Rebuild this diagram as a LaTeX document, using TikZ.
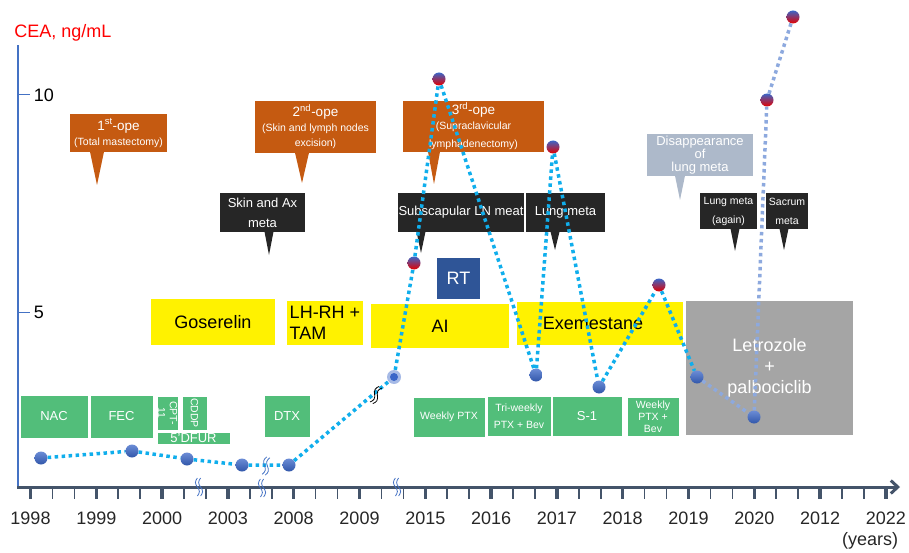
\documentclass[tikz,border=0pt]{standalone}
\usepackage{fontspec}
\setmainfont{Liberation Sans}
\usepackage{tikz}
\usetikzlibrary{calc,arrows.meta}

\definecolor{opeorange}{HTML}{C55A11}
\definecolor{metablack}{HTML}{262626}
\definecolor{lungmeta}{HTML}{ADB9CA}
\definecolor{chemogreen}{HTML}{52BE7A}
\definecolor{rtblue}{HTML}{2F5597}
\definecolor{cdkgray}{HTML}{A5A5A5}
\definecolor{yaxisblue}{HTML}{4472C4}
\definecolor{xaxisslate}{HTML}{44546A}
\definecolor{ceacyan}{HTML}{10AEEC}
\definecolor{cealight}{HTML}{8DA9DE}
\definecolor{dotblue}{HTML}{3A66C8}

\newcommand\fsub{\fontsize{10.5}{13}\selectfont}

\tikzset{
  fbig/.style={font=\fontsize{18}{21}\selectfont},
  fmid/.style={font=\fontsize{13}{15}\selectfont},
  fsmall/.style={font=\fontsize{10.5}{12}\selectfont},
  chemobox/.style={inner sep=0pt, align=center, fill=chemogreen, draw=white, line width=.8pt, text=white, fmid},
  hormbox/.style={inner sep=0pt, align=center, fill=yellow, fbig},
  opebox/.style={fill=opeorange, text=white, inner sep=0pt, align=center, font=\fontsize{13.5}{15}\selectfont},
  metabox/.style={fill=metablack, text=white, inner sep=0pt, align=center, font=\fontsize{13}{20}\selectfont},
  bluedot/.style={circle, minimum size=13pt, inner sep=0pt, top color=dotblue!75!white, bottom color=dotblue!85!black},
  hotdot/.style={bluedot, top color=dotblue, bottom color=red!90!black},
  cea/.style={draw=ceacyan, line width=3.5pt, dash pattern=on 3.5pt off 3.5pt},
  cealt/.style={cea, draw=cealight},
  brk/.pic={\foreach \d in {-1.6,1.6}
    \draw[pic actions] (-9,\d) sin (-4.5,\d+2) cos (0,\d) sin (4.5,\d-2) cos (9,\d);},
}

\begin{document}
\begin{tikzpicture}[x=1pt,y=-1pt]
%\draw[very thin,lightgray] (0,0) grid[step=50] (909,553);
\useasboundingbox (0,0) rectangle (909,553);

% axes
\node[fbig, text=red] (cea) at (63,33) {CEA, ng/mL};
\draw[yaxisblue, line width=2.5pt] (18,487) -- (18,45);
\draw[yaxisblue, line width=1pt] (18,95) -- (30,95) node[right, fbig, text=black]{10};
\draw[yaxisblue, line width=1pt] (18,312) -- (30,312) node[right, fbig, text=black]{5};
\foreach \i in {0,...,13}
  \draw[xaxisslate, line width=3.5pt] (30.5+65.8*\i,487) -- ++(0,12);
\foreach \i in {0,...,12}
  \foreach \j in {1,2}
    \draw[xaxisslate, line width=1.6pt] (30.5+65.8*\i+21.93*\j,487) -- ++(0,12);
\draw[xaxisslate, line width=3pt, -{Straight Barb[length=7pt,width=13pt]}] (17,487) -- (900,487);
\foreach \yr [count=\i from 0] in {1998,1999,2000,2003,2008,2009,2015,2016,2017,2018,2019,2020,2012,2022}
  \node[fbig, text=black!85] (yr\i) at (30.5+65.8*\i,518) {\yr};
\node[fbig, text=black!85] (years) at (870,541) {(years)};
\pic[rotate=90, draw=yaxisblue, line width=.8pt] at (199,487) {brk};
\pic[rotate=90, draw=yaxisblue, line width=.8pt] at (262,488) {brk};
\pic[rotate=90, draw=yaxisblue, line width=.8pt] at (397,487) {brk};

% chemotherapy
\node[chemobox, minimum width=68pt, minimum height=43pt] (nac) at (54,416.5) {NAC};
\node[chemobox, minimum width=63pt, minimum height=43pt] (fec) at (121.5,416.5) {FEC};
\node[chemobox, minimum width=34pt, minimum height=21pt, rotate=-90, fsmall] (cpt) at (167.5,413) {CPT-\\11};
\node[chemobox, minimum width=34pt, minimum height=25pt, rotate=-90, fsmall] (cddp) at (194.5,413) {CDDP};
\node[chemobox, minimum width=73pt, minimum height=12pt] (dfur) at (193.5,438) {5'DFUR};
\node[chemobox, minimum width=46pt, minimum height=42pt] (dtx) at (287,416) {DTX};
\node[chemobox, minimum width=72pt, minimum height=40pt, fsmall] (wptx) at (449,417) {Weekly PTX};
\node[chemobox, minimum width=64pt, minimum height=40pt, font=\fontsize{10.5}{17}\selectfont] (triptx) at (519,416) {Tri-weekly\\PTX + Bev};
\node[chemobox, minimum width=70pt, minimum height=40pt] (s1) at (587,416) {S-1};
\node[chemobox, minimum width=52pt, minimum height=39pt, fsmall] (wptxbev) at (653,416.5) {Weekly\\PTX +\\Bev};

% endocrine therapy
\node[hormbox, minimum width=124pt, minimum height=46pt] (goserelin) at (213,322) {Goserelin};
\node[hormbox, minimum width=76pt, minimum height=44pt, align=left] (lhrh) at (325,323) {LH-RH +\\TAM};
\node[hormbox, minimum width=138pt, minimum height=44pt] (ai) at (440,326) {AI};
\node[hormbox, minimum width=166pt, minimum height=43pt] (exe) at (600,323.5) {Exemestane\hspace{14pt}};
\node[fill=rtblue, text=white, fbig, minimum width=43pt, minimum height=41pt, inner sep=0pt] (rt) at (458.5,278.5) {RT};
\node[fill=cdkgray, text=white, align=center, font=\fontsize{18}{21}\selectfont,
  minimum width=167pt, minimum height=134pt, inner sep=0pt] (letro) at (769.5,368) {Letrozole\\+\\palbociclib};

% events
\node[opebox, minimum width=97pt, minimum height=38pt] (ope1) at (118.5,133)
  {1\textsuperscript{st}-ope\\{\fsub (Total mastectomy)}};
\node[opebox, minimum width=121pt, minimum height=52pt] (ope2) at (315.5,127)
  {2\textsuperscript{nd}-ope\\{\fsub (Skin and lymph nodes}\\{\fsub excision)}};
\node[opebox, minimum width=141pt, minimum height=51pt] (ope3) at (473.5,126.5)
  {3\textsuperscript{rd}-ope\\{\fsub (Supraclavicular}\\[3pt]{\fsub lymphadenectomy)}};
\node[opebox, fill=lungmeta, font=\fontsize{13}{13}\selectfont, minimum width=106pt, minimum height=42pt] (disap) at (700,155)
  {Disappearance\\of\\lung meta};
\node[metabox, minimum width=85pt, minimum height=39pt] (skin) at (262.5,212.5) {Skin and Ax\\meta};
\node[metabox, minimum width=126pt, minimum height=39pt] (subscap) at (461,212.5) {Subscapular LN meat};
\node[metabox, minimum width=79pt, minimum height=39pt] (lung) at (565.5,212.5) {Lung meta};
\node[metabox, font=\fontsize{10.5}{19}\selectfont, minimum width=57pt, minimum height=36pt] (lungagain) at (728.5,211) {Lung meta\\(again)};
\node[metabox, font=\fontsize{10.5}{19}\selectfont, minimum width=42pt, minimum height=36pt] (sacrum) at (787,211) {Sacrum\\meta};
\coordinate (t-ope1) at (97,185);
\coordinate (t-ope2) at (302,183);
\coordinate (t-ope3) at (434,184);
\coordinate (t-disap) at (680,200);
\coordinate (t-skin) at (269,255);
\coordinate (t-subscap) at (421,253);
\coordinate (t-lung) at (555,250);
\coordinate (t-lungagain) at (735,251);
\coordinate (t-sacrum) at (784,250);
\foreach \n/\w/\c in {ope1/7/opeorange,ope2/7/opeorange,ope3/6/opeorange,disap/5/lungmeta,
    skin/4.5/metablack,subscap/4.5/metablack,lung/4.5/metablack,lungagain/4.5/metablack,sacrum/4.5/metablack}
  \fill[\c] ($(\n.south -| t-\n)+(-\w,-0.5)$) -- (t-\n) -- ($(\n.south -| t-\n)+(\w,-0.5)$) -- cycle;

% CEA values
\node[bluedot] (p1) at (41,458) {};
\node[bluedot] (p2) at (132,451) {};
\node[bluedot] (p3) at (187,459) {};
\node[bluedot] (p4) at (242,465) {};
\node[bluedot] (p5) at (289,465) {};
\node[circle, minimum size=14pt, inner sep=0pt, fill=dotblue!45!white] (p6) at (394,377) {};
\fill[dotblue] (p6) circle[radius=4pt];
\node[hotdot] (p7) at (414,263) {};
\node[hotdot] (p8) at (439,79) {};
\node[bluedot] (p9) at (536,375) {};
\node[hotdot] (p10) at (553,147) {};
\node[bluedot] (p11) at (599,387) {};
\node[hotdot] (p12) at (659,285) {};
\node[bluedot] (p13) at (697,377) {};
\node[bluedot] (p14) at (754,417) {};
\node[hotdot] (p15) at (767,100) {};
\node[hotdot] (p16) at (793,17) {};
\draw[cea] (p1) -- (p2) -- (p3) -- (p4) -- (p5) -- (p6) -- (p7) -- (p8) -- (p9) -- (p10) -- (p11) -- (p12) -- (p13);
\draw[cealt] (p13) -- (p14) -- (p15) -- (p16);
\pic[rotate=75, draw=yaxisblue, line width=.8pt] at (266,466) {brk};
\pic[rotate=60, draw=black, line width=.8pt] at (376,395) {brk};
\end{tikzpicture}
\end{document}
